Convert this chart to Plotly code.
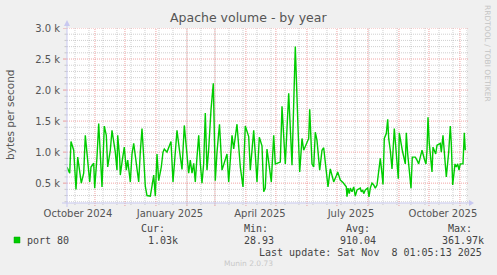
import pandas as pd
import plotly.graph_objects as go

# ---- data ----
start = pd.Timestamp("2024-10-04 01:05")
end = pd.Timestamp("2025-11-08 01:05")
day_offsets = [0, 2.7, 4, 6.7, 9, 10.7, 14.3, 16.7, 18.3, 20.7, 22.7, 24, 26.7, 27.7, 30, 31.7,
               33.3, 35, 37.3, 39.3, 40.7, 43.3, 45, 48.3, 50, 50.7, 52.7, 53.3, 55.3, 57.3, 59.3,
               60.7, 63.3, 65, 66.7, 70, 71.7, 73.3, 75, 76.7, 78.3, 80, 83.3, 85, 86.7, 88.3, 90,
               91.7, 94.3, 96, 97.3, 100, 102.7, 104, 106, 108.3, 110, 112.7, 115, 117.3, 120,
               121.7, 123.3, 125, 126.7, 128.3, 130, 131.7, 133.3, 135, 136.7, 138.3, 140, 141.7,
               144, 146.3, 148.3, 150, 152.5, 155, 160, 161.7, 163.3, 165, 166.7, 170, 173.3, 176,
               178.3, 181.7, 183.3, 186.7, 188.3, 190, 192.3, 195, 196.7, 198.3, 200, 204.3, 206.7,
               208.3, 213.3, 215, 218.3, 221.7, 225, 228.3, 231, 232.7, 235, 236.7, 241.7, 242.7,
               245, 246.7, 248.3, 250, 252.7, 255, 256.7, 258.3, 261, 263.3, 266.7, 269.3, 270.7,
               273.3, 276, 279.3, 280, 281, 282.3, 283.3, 285, 286.7, 288.3, 290, 293.3, 294.3,
               295.7, 296.7, 298.3, 300.7, 302, 303.3, 305, 306.7, 308.3, 310, 311.7, 313.3, 315,
               316, 317.3, 319.3, 320.7, 321.7, 323.3, 325, 327.3, 329, 330, 331.3, 332.3, 334,
               335.3, 338.3, 339.3, 340.7, 342.7, 344, 345.3, 348.3, 350, 351.7, 353.3, 355, 357.7,
               359, 360, 361, 362.3, 365, 366, 368.7, 370, 373.3, 374.3, 376, 378.3, 379.3, 381.7,
               383.3, 384.3, 385.7, 388, 389.3, 390.7, 392, 393.3, 396, 397.3, 398.3]
values_k = [0.76, 0.66, 1.17, 1.03, 0.40, 0.92, 0.50, 0.66, 1.27, 0.82, 0.52, 0.76, 0.82, 0.42, 0.92, 1.46,
            0.92, 0.44, 1.42, 1.27, 0.76, 1.03, 1.35, 1.00, 0.71, 1.27, 0.90, 0.63, 0.87, 1.08, 0.71,
            0.87, 0.52, 0.97, 1.14, 0.71, 0.52, 1.00, 1.38, 0.92, 0.45, 0.30, 0.29, 0.45, 0.63, 0.29, 0.97,
            0.54, 0.76, 1.00, 1.05, 1.00, 1.14, 1.17, 0.52, 1.00, 1.35, 1.00, 0.72, 1.43, 0.87,
            0.66, 0.87, 0.66, 0.82, 0.52, 0.92, 1.27, 0.82, 0.50, 0.82, 1.63, 0.71, 1.05,
            1.68, 2.11, 0.54, 1.00, 1.45, 0.71, 0.97, 0.52, 0.87, 1.27, 1.05, 1.45, 0.76, 0.44,
            1.42, 1.25, 0.71, 1.35, 0.97, 0.52, 1.24, 1.10, 0.36, 0.42, 1.05, 0.52, 1.27,
            0.81, 0.84, 1.74, 0.81, 1.95, 0.79, 2.70, 1.40, 0.68, 1.22, 1.03, 1.22, 1.69,
            0.81, 0.76, 1.32, 1.19, 0.71, 1.03, 1.07, 0.87, 0.44, 0.73, 0.52, 0.62, 0.68,
            0.55, 0.51, 0.44, 0.28, 0.42, 0.33, 0.42, 0.36, 0.44, 0.29, 0.39, 0.42, 0.36,
            0.39, 0.33, 0.39, 0.42, 0.28, 0.42, 0.50, 0.47, 0.42, 0.47, 0.71, 0.90, 0.65,
            0.48, 1.22, 1.30, 1.53, 1.22, 1.03, 0.73, 1.38, 0.97, 0.76, 0.57, 1.31, 1.11,
            1.03, 0.81, 1.31, 0.97, 0.57, 0.42, 0.92, 0.92, 0.87, 0.81, 0.92, 1.03, 0.87,
            0.81, 1.03, 1.56, 1.14, 0.68, 1.08, 0.97, 1.11, 1.14, 1.00, 1.27, 0.80, 0.60, 1.00,
            1.42, 1.14, 0.47, 0.81, 0.76, 0.81, 0.71, 0.81, 0.81, 1.31, 1.03]
ytick_vals = [500, 1000, 1500, 2000, 2500, 3000]
ytick_text = ["0.5 k", "1.0 k", "1.5 k", "2.0 k", "2.5 k", "3.0 k"]
xtick_dates = ["2024-10-15", "2025-01-15", "2025-04-15", "2025-07-15", "2025-10-15"]
xtick_text = ["October 2024", "January 2025", "April 2025", "July 2025", "October 2025"]
title = "Apache volume - by year"
ylabel = "bytes per second"
series_name = "port 80"
stat_heads = ["Cur:", "Min:", "Avg:", "Max:"]
stat_vals = ["1.03k", "28.93", "910.04", "361.97k"]
last_update = "Last update: Sat Nov \u00a08 01:05:13 2025"

x = [start + pd.Timedelta(days=d) for d in day_offsets]
y = [v * 1000 for v in values_k]

# ---- geometry ----
W, H = 497, 275
L, R, T, B = 67, 467, 28, 203
YMIN, YMAX = 180, 3000


def px(xp):
    return (xp - L) / (R - L)


def py(yp):
    return (B - yp) / (B - T)


fig = go.Figure()
fig.add_trace(go.Scatter(x=x, y=y, mode="lines", line=dict(color="#00CC00", width=1.4),
                         hoverinfo="skip", showlegend=False))

shapes = []
RED = "rgba(230,90,90,0.55)"
GREY = "rgba(150,150,150,0.45)"
AX = "#C8C8F0"
# horizontal grid
for v in range(200, 3001, 100):
    major = v % 500 == 0
    shapes.append(dict(type="line", xref="paper", yref="y", x0=0, x1=1.003, y0=v, y1=v,
                       line=dict(color=RED if major else GREY, width=1, dash="1px,1px"), layer="below"))
    shapes.append(dict(type="line", xref="paper", yref="y", x0=px(63 if major else 64.5), x1=0, y0=v, y1=v,
                       line=dict(color=RED if major else GREY, width=1), layer="above"))
# vertical grid: fortnights (grey), month starts (red)
d = pd.Timestamp("2024-10-12")
while d <= end:
    shapes.append(dict(type="line", xref="x", yref="paper", x0=d, x1=d, y0=py(205), y1=1,
                       line=dict(color=GREY, width=1, dash="1px,1px"), layer="below"))
    d += pd.Timedelta(days=14)
for m in pd.date_range("2024-11-01", end, freq="MS"):
    shapes.append(dict(type="line", xref="x", yref="paper", x0=m, x1=m, y0=py(206), y1=1,
                       line=dict(color=RED, width=1, dash="1px,1px"), layer="below"))
# axes with arrows
shapes.append(dict(type="line", xref="paper", yref="paper", x0=px(62), x1=px(471), y0=0, y1=0,
                   line=dict(color=AX, width=1)))
shapes.append(dict(type="path", xref="paper", yref="paper",
                   path=f"M {px(469)} {py(200)} L {px(474)} {py(203)} L {px(469)} {py(206)} Z",
                   fillcolor=AX, line=dict(color=AX, width=0)))
shapes.append(dict(type="line", xref="paper", yref="paper", x0=0, x1=0, y0=py(207), y1=py(24),
                   line=dict(color=AX, width=1)))
shapes.append(dict(type="path", xref="paper", yref="paper",
                   path=f"M {px(64)} {py(26)} L {px(67)} {py(20)} L {px(70)} {py(26)} Z",
                   fillcolor=AX, line=dict(color=AX, width=0)))
# legend square
shapes.append(dict(type="rect", xref="paper", yref="paper", x0=px(14), x1=px(20), y0=py(243), y1=py(237),
                   fillcolor="#00CC00", line=dict(color="#00AA00", width=0.5)))

MONO = "DejaVu Sans Mono"
SANS = "DejaVu Sans"
TXT = "#444444"
ann = []


def add_text(t, xp, yp, size=10, family=MONO, color=TXT, xanchor="left", angle=0):
    ann.append(dict(text=t, x=px(xp), y=py(yp), xref="paper", yref="paper", showarrow=False,
                    xanchor=xanchor, yanchor="middle", textangle=angle,
                    font=dict(family=family, size=size, color=color), borderpad=0))


add_text(title, 248, 18, size=12.5, family=SANS, color="#555555", xanchor="center")
add_text(ylabel, 10, 115, size=10.5, family=SANS, color="#555555", xanchor="center", angle=-90)
add_text("RRDTOOL / TOBI OETIKER", 488, 53, size=7.5, family=SANS, color="#C4C4C4", xanchor="center", angle=90)
add_text(series_name, 26, 240)
head_x = [140, 243, 345, 447]
val_x = [147, 243, 339, 441]
for h, hx in zip(stat_heads, head_x):
    add_text(h, hx, 228)
for v, vx in zip(stat_vals, val_x):
    add_text(v, vx, 240)
add_text(last_update, 483, 252, xanchor="right")
add_text("Munin 2.0.73", 248, 263, size=7.5, family=SANS, color="#C8C8C8", xanchor="center")

fig.update_layout(
    width=W, height=H,
    margin=dict(l=L, r=W - R, t=T, b=H - B),
    paper_bgcolor="#F0F0F0", plot_bgcolor="#FFFFFF",
    shapes=shapes, annotations=ann, showlegend=False,
    xaxis=dict(type="date", range=[start, end], showgrid=False, zeroline=False, showline=False,
               tickvals=xtick_dates, ticktext=xtick_text, ticks="", ticklen=0, ticklabelstandoff=3,
               tickfont=dict(family=SANS, size=10, color="#555555"), fixedrange=True),
    yaxis=dict(range=[YMIN, YMAX], showgrid=False, zeroline=False, showline=False,
               tickvals=ytick_vals, ticktext=ytick_text, ticks="", ticklabelstandoff=6,
               tickfont=dict(family=SANS, size=10, color="#555555"), fixedrange=True),
)

fig.write_html("out.html")
